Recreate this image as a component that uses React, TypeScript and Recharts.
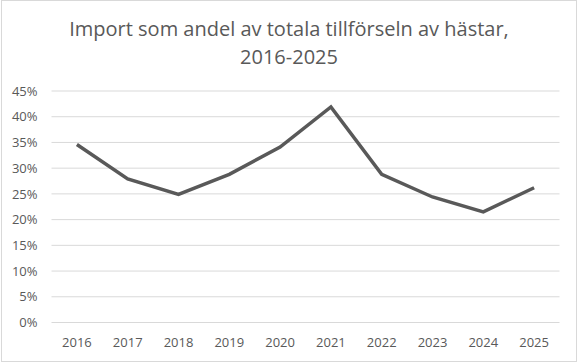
import React from "react";
import { LineChart, Line, XAxis, YAxis, CartesianGrid } from "recharts";

const years = ["2016", "2017", "2018", "2019", "2020", "2021", "2022", "2023", "2024", "2025"];
const importShare = [0.346, 0.279, 0.249, 0.288, 0.341, 0.419, 0.288, 0.244, 0.215, 0.262];
const yTicks = [0, 0.05, 0.1, 0.15, 0.2, 0.25, 0.3, 0.35, 0.4, 0.45];

const data = years.map((year, i) => ({ year, share: importShare[i] }));

const textColor = "#595959";
const font = "'Open Sans', sans-serif";

export default function App() {
  return (
    <div
      style={{
        position: "absolute",
        left: 0,
        top: 0,
        width: 578,
        height: 362,
        background: "#fff",
        fontFamily: font,
      }}
    >
      <div
        style={{
          position: "absolute",
          left: 1,
          top: 0,
          width: 576,
          height: 362,
          border: "1px solid #d9d9d9",
          boxSizing: "border-box",
        }}
      />
      <div
        style={{
          position: "absolute",
          left: 0,
          top: 15,
          width: 578,
          textAlign: "center",
          color: textColor,
          fontSize: 20,
          lineHeight: "28px",
        }}
      >
        Import som andel av totala tillförseln av hästar,
        <br />
        2016-2025
      </div>
      <div style={{ position: "absolute", left: 0, top: 0 }}>
        <LineChart
          width={578}
          height={362}
          data={data}
          margin={{ top: 91, right: 18.5, bottom: 0, left: 0 }}
        >
          <CartesianGrid vertical={false} stroke="#d9d9d9" strokeWidth={1} />
          <XAxis
            dataKey="year"
            scale="band"
            axisLine={false}
            tickLine={false}
            tickSize={0}
            tickMargin={15}
            height={39.5}
            tick={{ fill: textColor, fontSize: 13, fontFamily: font }}
          />
          <YAxis
            domain={[0, 0.45]}
            ticks={yTicks}
            width={51.5}
            axisLine={false}
            tickLine={false}
            tickSize={0}
            tickMargin={14}
            tickFormatter={(v: number) => `${Math.round(v * 100)}%`}
            tick={{ fill: textColor, fontSize: 13, fontFamily: font }}
          />
          <Line
            type="linear"
            dataKey="share"
            stroke="#595959"
            strokeWidth={3.5}
            dot={false}
            isAnimationActive={false}
          />
        </LineChart>
      </div>
    </div>
  );
}
